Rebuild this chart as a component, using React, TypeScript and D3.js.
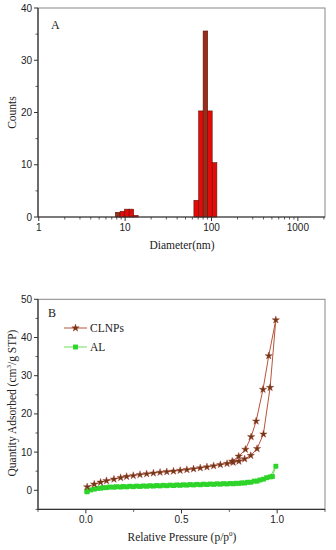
import * as d3 from "d3";
import React from "react";

// Panel A: size distribution (bin centres in nm, counts)
const diameters = [8.2, 9.3, 10.5, 11.8, 13.3, 66.5, 75.5, 85, 95.8, 108.5];
const counts = [0.9, 1.1, 1.5, 1.5, 0.3, 3.2, 20.3, 35.6, 20.3, 10.4];
const binRatio = 1.063; // half-width of each bin on log axis
const xTicksA = [1, 10, 100, 1000];
const yTicksA = [0, 10, 20, 30, 40];

// Panel B: isotherms (adsorption then desorption)
const clnpPressure = [
  0.007, 0.044, 0.077, 0.108, 0.147, 0.182, 0.213, 0.248, 0.283, 0.318, 0.353,
  0.388, 0.423, 0.458, 0.493, 0.528, 0.563, 0.598, 0.633, 0.668, 0.703, 0.738,
  0.77, 0.8, 0.83, 0.862, 0.895, 0.928, 0.963, 0.993,
  0.956, 0.926, 0.89, 0.864, 0.834, 0.799, 0.765,
];
const clnpQuantity = [
  0.9, 1.6, 2.1, 2.5, 2.9, 3.3, 3.6, 3.85, 4.1, 4.3, 4.5,
  4.7, 4.85, 5.0, 5.2, 5.4, 5.6, 5.85, 6.1, 6.4, 6.7, 7.0,
  7.3, 7.6, 8.2, 9.1, 10.9, 14.7, 26.9, 44.6,
  35.2, 26.4, 18.1, 14.0, 10.7, 8.9, 7.6,
];
const alPressure = [
  0.007, 0.044, 0.077, 0.108, 0.147, 0.182, 0.213, 0.248, 0.283, 0.318, 0.353,
  0.388, 0.423, 0.458, 0.493, 0.528, 0.563, 0.598, 0.633, 0.668, 0.703, 0.738,
  0.77, 0.8, 0.83, 0.862, 0.895, 0.928, 0.963, 0.993,
  0.975, 0.945, 0.91, 0.88, 0.845, 0.815, 0.785, 0.755, 0.72, 0.685, 0.65,
  0.615, 0.58, 0.545, 0.51, 0.475, 0.44, 0.405, 0.37, 0.335, 0.3, 0.265,
  0.23, 0.195, 0.16, 0.125, 0.09, 0.06, 0.025, 0.005,
];
const alQuantity = [
  -0.4, 0.3, 0.55, 0.7, 0.8, 0.85, 0.9, 0.95, 1.0, 1.05, 1.1,
  1.15, 1.2, 1.25, 1.3, 1.35, 1.4, 1.45, 1.5, 1.55, 1.6, 1.65,
  1.7, 1.8, 1.9, 2.1, 2.4, 2.9, 3.5, 6.3,
  3.6, 3.3, 2.7, 2.4, 2.1, 1.95, 1.85, 1.8, 1.75, 1.7, 1.65,
  1.6, 1.55, 1.5, 1.45, 1.4, 1.35, 1.3, 1.25, 1.2, 1.15, 1.1,
  1.05, 1.0, 0.95, 0.85, 0.7, 0.5, 0.1, -0.2,
];
const xTicksB = [0, 0.5, 1.0];
const yTicksB = [0, 10, 20, 30, 40, 50];

const sans = "'Liberation Sans', Arial, sans-serif";
const serif = "'Liberation Serif', 'Times New Roman', serif";
const axisColor = "#333";
const frameColor = "#888";

export default function App() {
  // ---- panel A
  const left = 38, right = 325;
  const xA = d3.scaleLog().domain([0.98, 2060]).range([left, right]);
  const yA = d3.scaleLinear().domain([0, 40]).range([217, 8]);
  const minorXA: number[] = [];
  for (const dec of [1, 10, 100, 1000])
    for (let k = 2; k <= 9; k++) if (dec * k < 2060) minorXA.push(dec * k);
  const minorYA = [5, 15, 25, 35];
  const tallest = d3.max(counts) as number;

  // ---- panel B
  const xB = d3.scaleLinear().domain([-0.25, 1.25]).range([left, right]);
  const yB = d3.scaleLinear().domain([-5, 50]).range([509.4, 299.3]);
  const minorXB = [-0.25, 0.25, 0.75, 1.25];
  const minorYB = [-5, 5, 15, 25, 35, 45];
  const clnp = clnpPressure.map((p, i) => [p, clnpQuantity[i]] as [number, number]);
  const al = alPressure.map((p, i) => [p, alQuantity[i]] as [number, number]);
  const line = d3
    .line<[number, number]>()
    .x((d) => xB(d[0]))
    .y((d) => yB(d[1]));
  const star = d3.symbol().type(d3.symbolStar).size(17)() as string;
  const square = d3.symbol().type(d3.symbolSquare).size(24)() as string;
  const starFill = "#6e3a12";
  const starStroke = "#a0302a";
  const clnpLine = "#b8543a";
  const alFill = "#2fd42a";
  const alLine = "#6ee05a";

  return (
    <svg
      width={336}
      height={550}
      style={{ position: "absolute", left: 0, top: 0, background: "#fff" }}
    >
      {/* ===== Panel A ===== */}
      <rect x={left} y={8} width={right - left} height={217 - 8} fill="none" stroke={frameColor} strokeWidth={1} />
      {diameters.map((d, i) => (
        <rect
          key={i}
          x={xA(d / binRatio)}
          y={yA(counts[i])}
          width={xA(d * binRatio) - xA(d / binRatio)}
          height={yA(0) - yA(counts[i])}
          fill={counts[i] === tallest || i === 0 ? "#9a2c1c" : "#e30a0a"}
          stroke="#5c1608"
          strokeWidth={0.6}
        />
      ))}
      <line x1={left} x2={right} y1={217} y2={217} stroke={axisColor} strokeWidth={1.2} />
      <line x1={left} x2={left} y1={8} y2={217} stroke={axisColor} strokeWidth={1.2} />
      {xTicksA.map((t) => (
        <g key={t}>
          <line x1={xA(t)} x2={xA(t)} y1={217} y2={221} stroke={axisColor} />
          <text x={xA(t)} y={231} textAnchor="middle" fontFamily={sans} fontSize={10} fill="#222">
            {t}
          </text>
        </g>
      ))}
      {minorXA.map((t) => (
        <line key={t} x1={xA(t)} x2={xA(t)} y1={217} y2={219.5} stroke={axisColor} strokeWidth={0.8} />
      ))}
      {yTicksA.map((t) => (
        <g key={t}>
          <line x1={left - 4} x2={left} y1={yA(t)} y2={yA(t)} stroke={axisColor} />
          <text x={left - 6} y={yA(t) + 3.5} textAnchor="end" fontFamily={sans} fontSize={10} fill="#222">
            {t}
          </text>
        </g>
      ))}
      {minorYA.map((t) => (
        <line key={t} x1={left - 2.5} x2={left} y1={yA(t)} y2={yA(t)} stroke={axisColor} strokeWidth={0.8} />
      ))}
      <text x={182} y={249} textAnchor="middle" fontFamily={serif} fontSize={11.5} fill="#222">
        Diameter(nm)
      </text>
      <text
        transform={`translate(16,${yA(20)}) rotate(-90)`}
        textAnchor="middle"
        fontFamily={serif}
        fontSize={11.5}
        fill="#222"
      >
        Counts
      </text>
      <text x={51} y={29} fontFamily={serif} fontSize={12} fill="#222">
        A
      </text>

      {/* ===== Panel B ===== */}
      <rect x={left} y={299.3} width={right - left} height={509.4 - 299.3} fill="none" stroke={frameColor} strokeWidth={1} />
      <line x1={left} x2={right} y1={509.4} y2={509.4} stroke={axisColor} strokeWidth={1.2} />
      <line x1={left} x2={left} y1={299.3} y2={509.4} stroke={axisColor} strokeWidth={1.2} />
      {xTicksB.map((t) => (
        <g key={t}>
          <line x1={xB(t)} x2={xB(t)} y1={509.4} y2={513.4} stroke={axisColor} />
          <text x={xB(t)} y={523} textAnchor="middle" fontFamily={sans} fontSize={10} fill="#222">
            {d3.format(".1f")(t)}
          </text>
        </g>
      ))}
      {minorXB.map((t) => (
        <line key={t} x1={xB(t)} x2={xB(t)} y1={509.4} y2={511.9} stroke={axisColor} strokeWidth={0.8} />
      ))}
      {yTicksB.map((t) => (
        <g key={t}>
          <line x1={left - 4} x2={left} y1={yB(t)} y2={yB(t)} stroke={axisColor} />
          <text x={left - 6} y={yB(t) + 3.5} textAnchor="end" fontFamily={sans} fontSize={10} fill="#222">
            {t}
          </text>
        </g>
      ))}
      {minorYB.map((t) => (
        <line key={t} x1={left - 2.5} x2={left} y1={yB(t)} y2={yB(t)} stroke={axisColor} strokeWidth={0.8} />
      ))}

      <path d={line(al) as string} fill="none" stroke={alLine} strokeWidth={1} />
      {al.map((d, i) => (
        <path key={i} d={square} transform={`translate(${xB(d[0])},${yB(d[1])})`} fill={alFill} />
      ))}
      <path d={line(clnp) as string} fill="none" stroke={clnpLine} strokeWidth={1} />
      {clnp.map((d, i) => (
        <path
          key={i}
          d={star}
          transform={`translate(${xB(d[0])},${yB(d[1])})`}
          fill={starFill}
          stroke={starStroke}
          strokeWidth={0.4}
        />
      ))}

      {/* legend */}
      <line x1={64} x2={87} y1={328} y2={328} stroke={clnpLine} strokeWidth={1} />
      <path d={star} transform="translate(75.5,328)" fill={starFill} stroke={starStroke} strokeWidth={0.4} />
      <text x={90} y={332} fontFamily={serif} fontSize={11.5} fill="#222">
        CLNPs
      </text>
      <line x1={64} x2={87} y1={347} y2={347} stroke={alLine} strokeWidth={1} />
      <path d={square} transform="translate(75.5,347)" fill={alFill} />
      <text x={90} y={351} fontFamily={serif} fontSize={11.5} fill="#222">
        AL
      </text>

      <text x={182} y={541} textAnchor="middle" fontFamily={serif} fontSize={11.5} fill="#222">
        Relative Pressure (p/p
        <tspan fontSize={7} dy={-5}>0</tspan>
        <tspan dy={5}>)</tspan>
      </text>
      <text
        transform={`translate(16,403) rotate(-90)`}
        textAnchor="middle"
        fontFamily={serif}
        fontSize={11.5}
        fill="#222"
      >
        Quantity Adsorbed (cm
        <tspan fontSize={7} dy={-5}>3</tspan>
        <tspan dy={5}>/g STP)</tspan>
      </text>
      <text x={48} y={317} fontFamily={serif} fontSize={12} fill="#222">
        B
      </text>
    </svg>
  );
}
